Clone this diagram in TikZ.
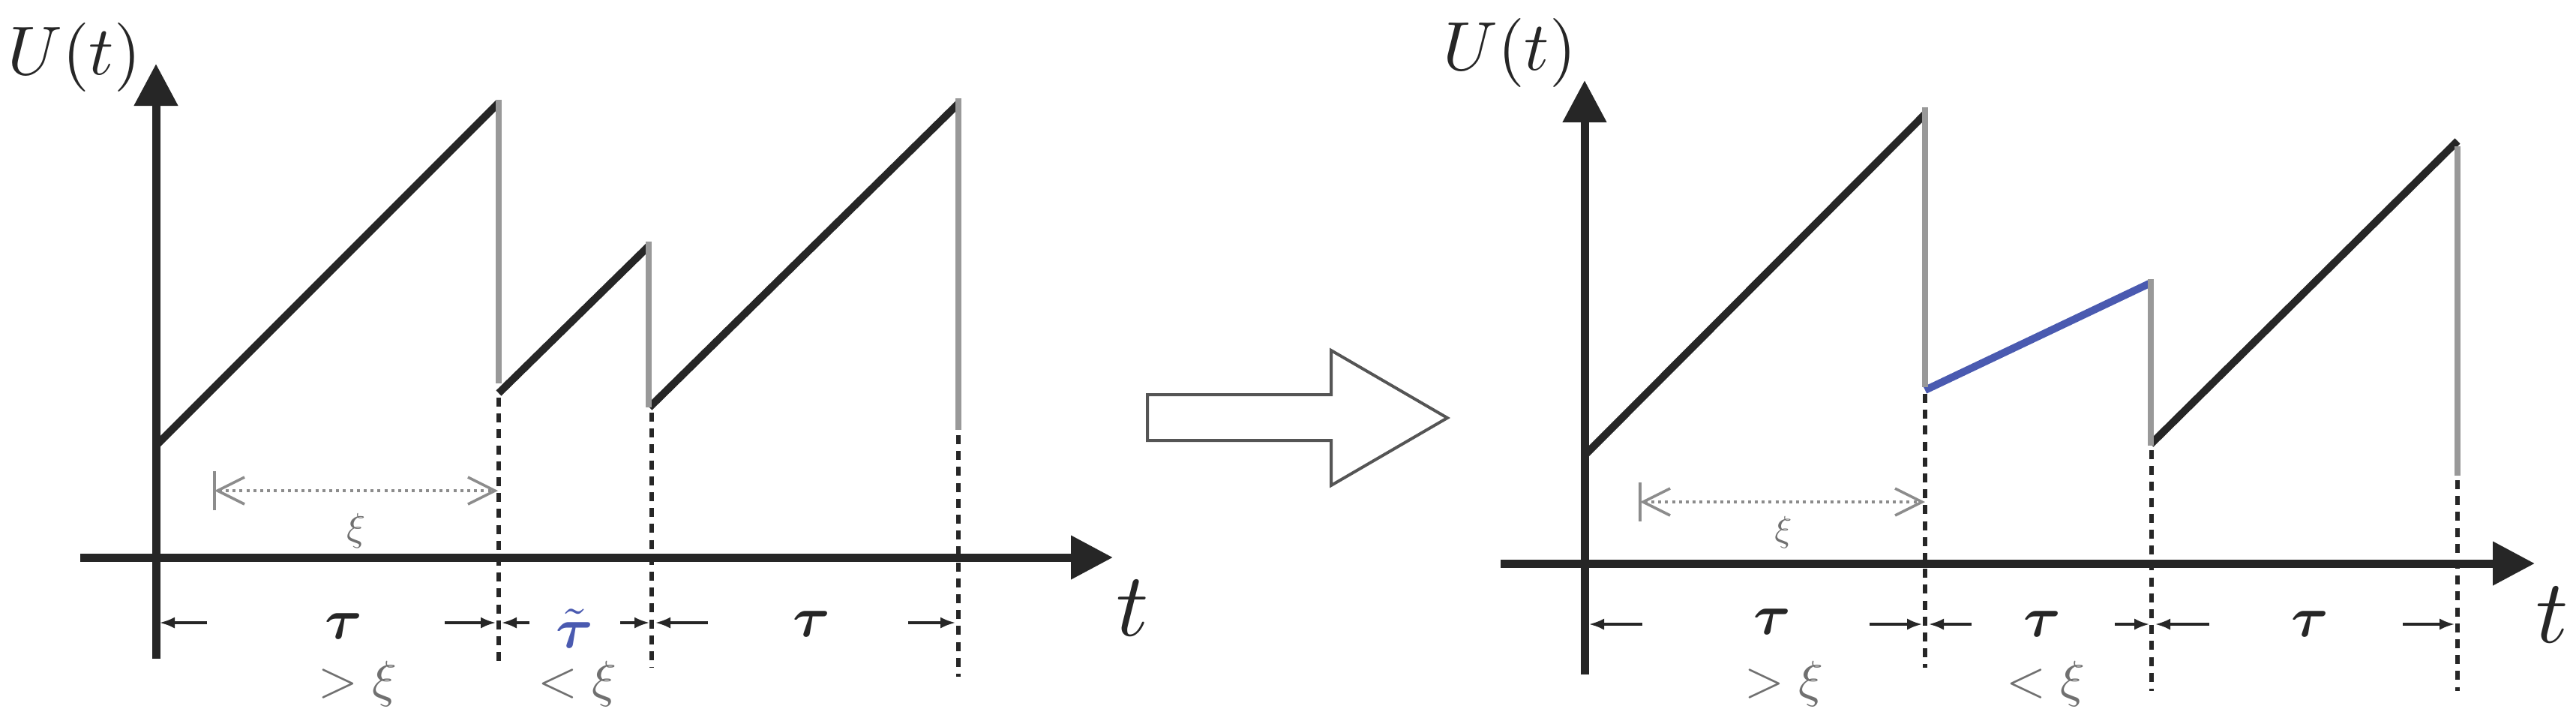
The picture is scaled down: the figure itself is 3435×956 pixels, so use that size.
\documentclass[tikz,border=0pt]{standalone}
\usepackage{amsmath}
\usetikzlibrary{arrows.meta}
\definecolor{ink}{HTML}{262626}
\definecolor{dropc}{HTML}{999999}
\definecolor{xig}{HTML}{8C8C8C}
\definecolor{txg}{HTML}{707070}
\definecolor{blu}{HTML}{4A5AB0}
\definecolor{bigarr}{HTML}{555555}
\tikzset{
  axisline/.style={ink, line width=2.75pt, -{Triangle[length=14pt,width=14pt]}},
  ramp/.style={ink, line width=2.5pt},
  bramp/.style={blu, line width=2.5pt},
  dropline/.style={dropc, line width=2.2pt},
  guide/.style={ink, line width=1.3pt, dash pattern=on 3pt off 2.3pt},
  xiarr/.style={xig, line width=0.9pt, dash pattern=on 1pt off 1.3pt,
    {Straight Barb[length=9pt,width=9pt]}-{Straight Barb[length=9pt,width=9pt]}},
  xibar/.style={xig, line width=0.9pt},
  tick/.style={ink, line width=0.8pt, -{Latex[length=5pt,width=3.8pt]}},
  ulab/.style={text=ink, inner sep=0pt, scale=2.3},
  tlab/.style={text=ink, inner sep=0pt, scale=3.0},
  taulab/.style={text=ink, inner sep=0pt, scale=1.9},
  cmplab/.style={text=txg, inner sep=0pt, scale=1.7},
  xilab/.style={text=txg, inner sep=0pt, scale=1.3},
  bigarrow/.style={bigarr, line width=1pt, fill=white, line join=miter}
}
\begin{document}
\begin{tikzpicture}[x=0.25pt, y=-0.25pt]
\useasboundingbox (0,0) rectangle (3435,956);

% ---------------- Left panel ----------------
\coordinate (La0) at (208,878); \coordinate (La1) at (208,85);
\coordinate (Lx0) at (107,743); \coordinate (Lx1) at (1484,743);
\coordinate (Lr1a) at (208,594); \coordinate (Lr1b) at (665,137);
\coordinate (Ld1a) at (665,133); \coordinate (Ld1b) at (665,511);
\coordinate (Lr2a) at (665,524); \coordinate (Lr2b) at (865,328);
\coordinate (Ld2a) at (865,322); \coordinate (Ld2b) at (865,543);
\coordinate (Lr3a) at (866,543); \coordinate (Lr3b) at (1278,138);
\coordinate (Ld3a) at (1278,131); \coordinate (Ld3b) at (1278,573);
\coordinate (Lg1a) at (665,530); \coordinate (Lg1b) at (665,890);
\coordinate (Lg2a) at (869,550); \coordinate (Lg2b) at (869,890);
\coordinate (Lg3a) at (1278,580); \coordinate (Lg3b) at (1278,902);
\coordinate (Lxa) at (286,654); \coordinate (Lxb) at (664,654);

\draw[guide] (Lg1a) -- (Lg1b);
\draw[guide] (Lg2a) -- (Lg2b);
\draw[guide] (Lg3a) -- (Lg3b);
\draw[axisline] (Lx0) -- (Lx1);
\draw[axisline] (La0) -- (La1);
\draw[ramp] (Lr1a) -- (Lr1b);
\draw[ramp] (Lr2a) -- (Lr2b);
\draw[ramp] (Lr3a) -- (Lr3b);
\draw[dropline] (Ld1a) -- (Ld1b);
\draw[dropline] (Ld2a) -- (Ld2b);
\draw[dropline] (Ld3a) -- (Ld3b);
\draw[xiarr] (Lxa) -- (Lxb);
\draw[xibar] ([yshift=-6.5pt]Lxa) -- ([yshift=6.5pt]Lxa);

\coordinate (Lt1s) at (276,830); \coordinate (Lt1e) at (213,830);
\coordinate (Lt2s) at (593,830); \coordinate (Lt2e) at (661,830);
\coordinate (Lt3s) at (706,830); \coordinate (Lt3e) at (669,830);
\coordinate (Lt4s) at (827,830); \coordinate (Lt4e) at (866,830);
\coordinate (Lt5s) at (944,830); \coordinate (Lt5e) at (874,830);
\coordinate (Lt6s) at (1211,830); \coordinate (Lt6e) at (1274,830);
\draw[tick] (Lt1s) -- (Lt1e);
\draw[tick] (Lt2s) -- (Lt2e);
\draw[tick] (Lt3s) -- (Lt3e);
\draw[tick] (Lt4s) -- (Lt4e);
\draw[tick] (Lt5s) -- (Lt5e);
\draw[tick] (Lt6s) -- (Lt6e);

\node[ulab] (LU) at (99,76) {$U(t)$};
\node[tlab] (Lt) at (1510,811) {$t$};
\node[xilab] (Lxi) at (475,707) {$\xi$};
\node[taulab] (Ltau1) at (458,835) {$\boldsymbol{\tau}$};
\node[taulab, text=blu] (Ltau2) at (766,838) {$\tilde{\boldsymbol{\tau}}$};
\node[taulab] (Ltau3) at (1082,832) {$\boldsymbol{\tau}$};
\node[cmplab] (Lgt) at (477,911) {$>\xi$};
\node[cmplab] (Llt) at (770,911) {$<\xi$};

% ---------------- Big arrow ----------------
\draw[bigarrow] (1530,526) -- (1775,526) -- (1775,467) -- (1930,557)
  -- (1775,647) -- (1775,587) -- (1530,587) -- cycle;

% ---------------- Right panel ----------------
\coordinate (Ra0) at (2113,899); \coordinate (Ra1) at (2113,107);
\coordinate (Rx0) at (2001,751); \coordinate (Rx1) at (3380,751);
\coordinate (Rr1a) at (2113,607); \coordinate (Rr1b) at (2567,152);
\coordinate (Rd1a) at (2567,143); \coordinate (Rd1b) at (2567,516);
\coordinate (Rba) at (2567,520); \coordinate (Rbb) at (2868,377);
\coordinate (Rd2a) at (2868,372); \coordinate (Rd2b) at (2868,594);
\coordinate (Rr2a) at (2868,592); \coordinate (Rr2b) at (3277,188);
\coordinate (Rd3a) at (3277,195); \coordinate (Rd3b) at (3277,634);
\coordinate (Rg1a) at (2567,525); \coordinate (Rg1b) at (2567,890);
\coordinate (Rg2a) at (2869,600); \coordinate (Rg2b) at (2869,921);
\coordinate (Rg3a) at (3277,640); \coordinate (Rg3b) at (3277,921);
\coordinate (Rxa) at (2187,669); \coordinate (Rxb) at (2567,669);

\draw[guide] (Rg1a) -- (Rg1b);
\draw[guide] (Rg2a) -- (Rg2b);
\draw[guide] (Rg3a) -- (Rg3b);
\draw[axisline] (Rx0) -- (Rx1);
\draw[axisline] (Ra0) -- (Ra1);
\draw[ramp] (Rr1a) -- (Rr1b);
\draw[bramp] (Rba) -- (Rbb);
\draw[ramp] (Rr2a) -- (Rr2b);
\draw[dropline] (Rd1a) -- (Rd1b);
\draw[dropline] (Rd2a) -- (Rd2b);
\draw[dropline] (Rd3a) -- (Rd3b);
\draw[xiarr] (Rxa) -- (Rxb);
\draw[xibar] ([yshift=-6.5pt]Rxa) -- ([yshift=6.5pt]Rxa);

\coordinate (Rt1s) at (2190,832); \coordinate (Rt1e) at (2119,832);
\coordinate (Rt2s) at (2493,832); \coordinate (Rt2e) at (2563,832);
\coordinate (Rt3s) at (2629,832); \coordinate (Rt3e) at (2572,832);
\coordinate (Rt4s) at (2820,832); \coordinate (Rt4e) at (2866,832);
\coordinate (Rt5s) at (2946,832); \coordinate (Rt5e) at (2874,832);
\coordinate (Rt6s) at (3204,832); \coordinate (Rt6e) at (3273,832);
\draw[tick] (Rt1s) -- (Rt1e);
\draw[tick] (Rt2s) -- (Rt2e);
\draw[tick] (Rt3s) -- (Rt3e);
\draw[tick] (Rt4s) -- (Rt4e);
\draw[tick] (Rt5s) -- (Rt5e);
\draw[tick] (Rt6s) -- (Rt6e);

\node[ulab] (RU) at (2013,70) {$U(t)$};
\node[tlab] (Rt) at (3403,820) {$t$};
\node[xilab, scale=0.92] (Rxi) at (2378,710) {$\xi$};
\node[taulab] (Rtau1) at (2363,829) {$\boldsymbol{\tau}$};
\node[taulab] (Rtau2) at (2723,832) {$\boldsymbol{\tau}$};
\node[taulab] (Rtau3) at (3080,832) {$\boldsymbol{\tau}$};
\node[cmplab] (Rgt) at (2379,911) {$>\xi$};
\node[cmplab] (Rlt) at (2728,911) {$<\xi$};
\end{tikzpicture}
\end{document}
